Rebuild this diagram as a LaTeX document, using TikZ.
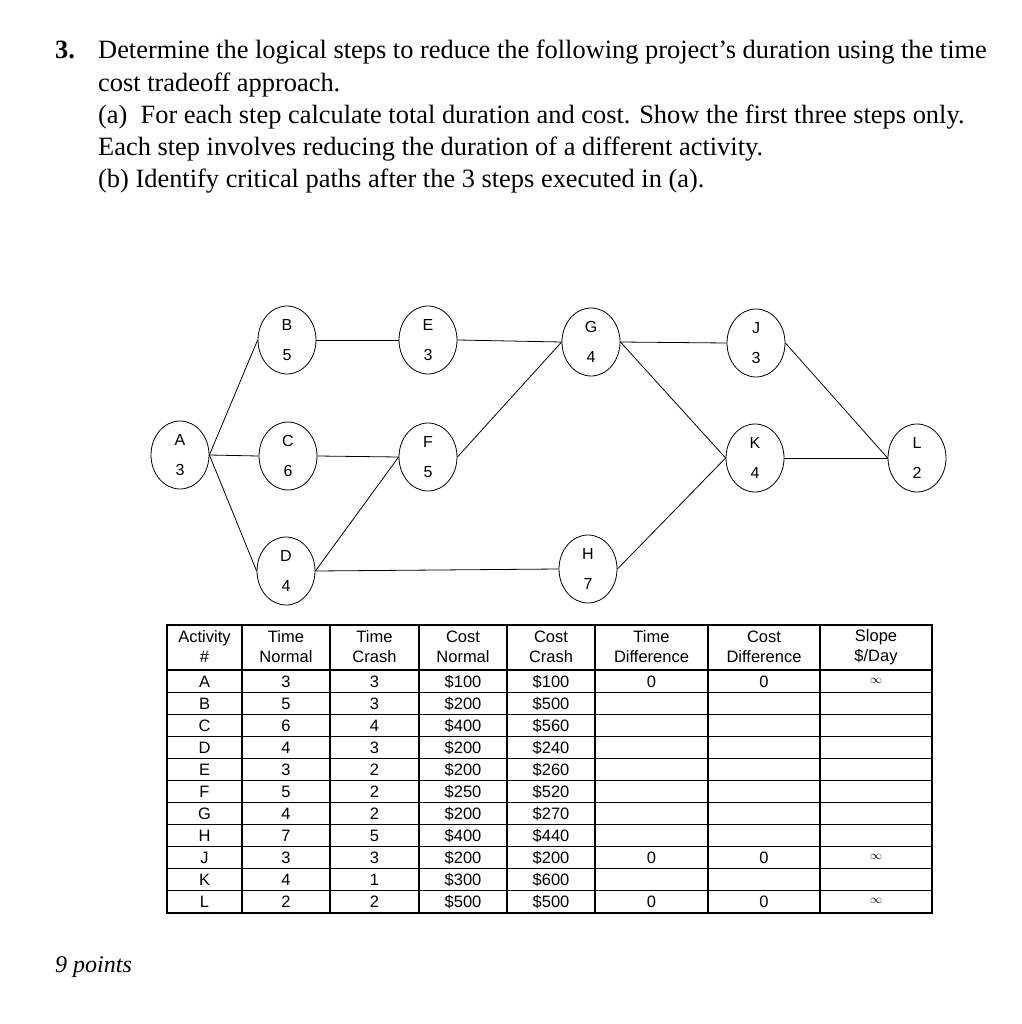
\documentclass[tikz,border=0pt]{standalone}
\usepackage{fontspec}
\setmainfont{Liberation Serif}
\newfontfamily\arialf{Liberation Sans}
\usetikzlibrary{shapes.geometric}
\begin{document}
\begin{tikzpicture}[x=1pt,y=-1pt,
  act/.style={draw, ellipse, minimum width=58pt, minimum height=68pt, inner sep=0pt, align=center, font=\arialf\fontsize{16}{30}\selectfont, line width=0.8pt},
  edge/.style={line width=0.8pt},
  qtext/.style={anchor=base west, inner sep=0pt, font=\fontsize{26.4}{28}\selectfont},
  cell/.style={inner sep=0pt, font=\arialf\fontsize{16.5}{20}\selectfont, align=center},
  dcell/.style={inner sep=0pt, anchor=base, font=\arialf\fontsize{16.5}{20}\selectfont},
  thin/.style={line width=1pt},
  thick/.style={line width=1.6pt}]
\useasboundingbox[fill=white] (0,0) rectangle (1021,1024);

% question text
\node[qtext] (n3) at (55,59) {\textbf{3.}};
\node[qtext] (l1) at (98,59) {Determine the logical steps to reduce the following project’s duration using the time};
\node[qtext] (l2) at (98,92) {cost tradeoff approach.};
\node[qtext] (l3) at (98,124) {(a)\ \ For each step calculate total duration and cost. Show the first three steps only.};
\node[qtext] (l4) at (98,156) {Each step involves reducing the duration of a different activity.};
\node[qtext] (l5) at (98,188) {(b) Identify critical paths after the 3 steps executed in (a).};
\node[qtext,font=\itshape\fontsize{24}{26}\selectfont] (pts) at (55,972) {9 points};

% network
\node[act] (A) at (180,455) {A\\3};
\node[act] (B) at (287,340) {B\\5};
\node[act] (C) at (288,456) {C\\6};
\node[act] (D) at (286,571) {D\\4};
\node[act] (E) at (428,340) {E\\3};
\node[act] (F) at (428,457) {F\\5};
\node[act] (G) at (591,342) {G\\4};
\node[act] (H) at (588,569) {H\\7};
\node[act] (J) at (756,343) {J\\3};
\node[act] (K) at (755,458) {K\\4};
\node[act] (L) at (917,458) {L\\2};

\draw[edge] (A.east) -- (B.west);
\draw[edge] (A.east) -- (C.west);
\draw[edge] (A.east) -- (D.west);
\draw[edge] (B.east) -- (E.west);
\draw[edge] (C.east) -- (F.west);
\draw[edge] (D.east) -- (F.west);
\draw[edge] (D.east) -- (H.west);
\draw[edge] (E.east) -- (G.west);
\draw[edge] (F.east) -- (G.west);
\draw[edge] (G.east) -- (J.west);
\draw[edge] (G.east) -- (K.west);
\draw[edge] (H.east) -- (K.west);
\draw[edge] (J.east) -- (L.west);
\draw[edge] (K.east) -- (L.west);

% table
\def\tl{167}\def\tr{932}\def\tt{625}\def\th{670}\def\tb{913}
\foreach \i in {1,...,10} {
  \draw[thin] (\tl,{\th+22.09*\i}) -- (\tr,{\th+22.09*\i});
}
\foreach \x in {242,330,419,507,595,708,820} {
  \draw[thick] (\x,\tt) -- (\x,\tb);
}
\draw[thick] (\tl,\th) -- (\tr,\th);
\draw[thick] (\tl,\tt) rectangle (\tr,\tb);

% headers
\node[cell] (h1) at (204.5,647) {Activity\\\#};
\node[cell] (h2) at (286,647) {Time\\Normal};
\node[cell] (h3) at (374.5,647) {Time\\Crash};
\node[cell] (h4) at (463,647) {Cost\\Normal};
\node[cell] (h5) at (551,647) {Cost\\Crash};
\node[cell] (h6) at (651.5,647) {Time\\Difference};
\node[cell] (h7) at (764,647) {Cost\\Difference};
\node[cell] (h8) at (876,647) {Slope\\\$/Day};

\foreach \a/\tn/\tc/\cn/\cc [count=\r from 0] in {A/3/3/100/100, B/5/3/200/500, C/6/4/400/560, D/4/3/200/240, E/3/2/200/260, F/5/2/250/520, G/4/2/200/270, H/7/5/400/440, J/3/3/200/200, K/4/1/300/600, L/2/2/500/500} {
  \pgfmathsetmacro{\yy}{\th+22.09*(\r+0.5)+6}
  \node[dcell] (r\r a) at (204.5,\yy) {\a};
  \node[dcell] (r\r b) at (286,\yy) {\tn};
  \node[dcell] (r\r c) at (374.5,\yy) {\tc};
  \node[dcell] (r\r d) at (463,\yy) {\$\cn};
  \node[dcell] (r\r e) at (551,\yy) {\$\cc};
}
\foreach \r in {0,8,10} {
  \pgfmathsetmacro{\yy}{\th+22.09*(\r+0.5)+6}
  \node[dcell] (r\r f) at (651.5,\yy) {0};
  \node[dcell] (r\r g) at (764,\yy) {0};
  \node[dcell] (r\r h) at (876,\yy-4) {$\scriptstyle\infty$};
}
\end{tikzpicture}
\end{document}
